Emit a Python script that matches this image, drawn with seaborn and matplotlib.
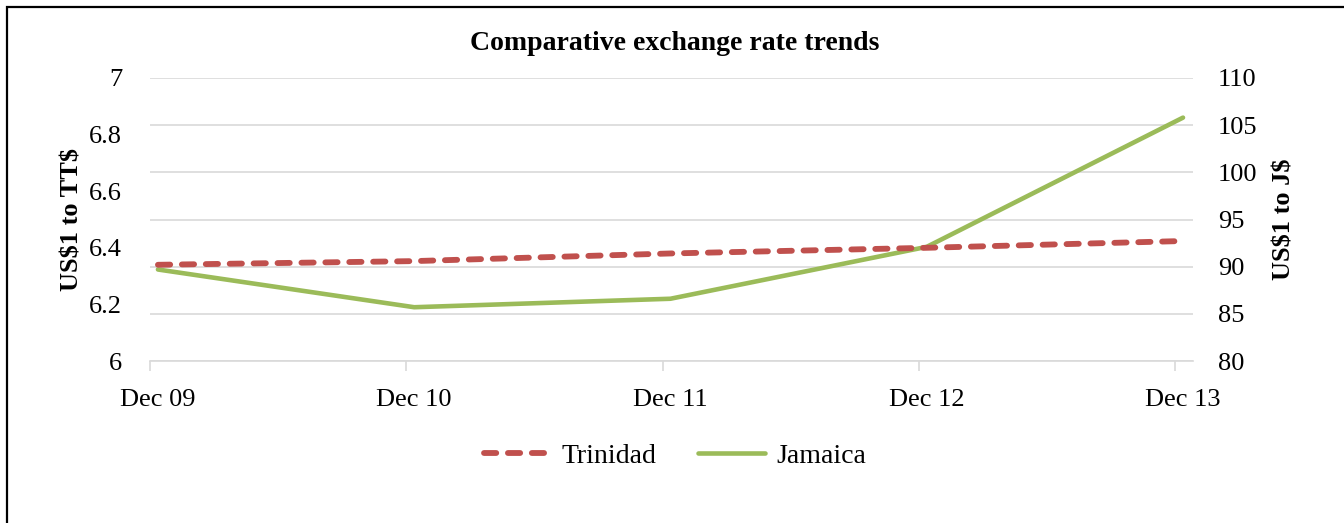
import matplotlib
matplotlib.use("Agg")
import matplotlib.pyplot as plt
import seaborn as sns
import pandas as pd
from matplotlib.patches import Rectangle

categories = ["Dec 09", "Dec 10", "Dec 11", "Dec 12", "Dec 13"]
trinidad = [6.34, 6.353, 6.38, 6.40, 6.424]
jamaica = [89.7, 85.7, 86.6, 92.1, 105.8]
left_ticks = [6, 6.2, 6.4, 6.6, 6.8, 7]
right_ticks = [80, 85, 90, 95, 100, 105, 110]

sns.set_theme(style="white")
plt.rcParams["font.family"] = ["Liberation Serif", "DejaVu Serif"]
plt.rcParams["text.color"] = "black"
plt.rcParams["axes.labelcolor"] = "black"
plt.rcParams["xtick.color"] = "black"
plt.rcParams["ytick.color"] = "black"
plt.rcParams["text.parse_math"] = False

df = pd.DataFrame({"pos": range(len(categories)), "Trinidad": trinidad, "Jamaica": jamaica})

W, H = 1344, 523
fig = plt.figure(figsize=(W / 100, H / 100), dpi=100)
ax = fig.add_axes([150 / W, 1 - 361 / H, (1193 - 150) / W, (361 - 78) / H])
ax2 = ax.twinx()

RED = "#C0504D"
GREEN = "#9BBB59"

sns.lineplot(data=df, x="pos", y="Trinidad", ax=ax, color=RED, linewidth=4.2,
             label="Trinidad", legend=False)
sns.lineplot(data=df, x="pos", y="Jamaica", ax=ax2, color=GREEN, linewidth=3.3,
             label="Jamaica", legend=False)
tl = ax.get_lines()[0]
tl.set_dashes([2.1, 2.0])
tl.set_dash_capstyle("round")
jl = ax2.get_lines()[0]
jl.set_solid_capstyle("round")

ax.set_zorder(ax2.get_zorder() + 1)
ax.patch.set_visible(False)

ax.set_xlim(-0.031, 4.039)
ax.set_ylim(6, 7)
ax2.set_ylim(80, 110)
ax.set_yticks(left_ticks)
ax.set_yticklabels(["6", "6.2", "6.4", "6.6", "6.8", "7"])
ax2.set_yticks(right_ticks)
ax2.set_yticklabels([str(v) for v in right_ticks])

# category labels centred on points, tick marks slightly left (Excel style)
ax.set_xticks(range(len(categories)))
ax.set_xticklabels(categories)
ax.set_xticks([i - 0.031 for i in range(len(categories))], minor=True)
ax.tick_params(axis="x", which="major", bottom=True, length=0, pad=20, labelsize=19)
ax.tick_params(axis="x", which="minor", bottom=True, length=7, width=1.2,
               color="#D9D9D9", direction="out")
ax.tick_params(axis="y", length=0, pad=20, labelsize=19)
ax2.tick_params(axis="y", length=0, pad=18, labelsize=19)

ax2.grid(True, axis="y", color="#D9D9D9", linewidth=1.2)
ax.grid(False)
for a in (ax, ax2):
    for s in a.spines.values():
        s.set_visible(False)
ax2.spines["bottom"].set_visible(True)
ax2.spines["bottom"].set_color("#D9D9D9")
ax2.spines["bottom"].set_linewidth(1.2)

ax.set_xlabel("")
ax.set_ylabel("US$1 to TT$", fontsize=19, fontweight="bold")
ax2.set_ylabel("US$1 to J$", fontsize=19, fontweight="bold")
ax.yaxis.set_label_coords((83 - 150) / (1193 - 150), 0.5)
ax2.yaxis.set_label_coords((1273 - 150) / (1193 - 150), 0.5)

fig.text(675 / W, 1 - 44 / H, "Comparative exchange rate trends", ha="center", va="center",
         fontsize=20, fontweight="bold")

h1, l1 = ax.get_legend_handles_labels()
h2, l2 = ax2.get_legend_handles_labels()
fig.legend(h1 + h2, l1 + l2, loc="center", bbox_to_anchor=(675 / W, 1 - 456 / H), ncol=2,
           frameon=False, fontsize=20, handlelength=2.4, columnspacing=1.5, handletextpad=0.4)

fig.patches.append(Rectangle((7 / W, -0.05), 1.2, 1 - 7 / H + 0.05, transform=fig.transFigure,
                             fill=False, edgecolor="black", linewidth=1.6, figure=fig))

fig.savefig("out.png", dpi=100)
